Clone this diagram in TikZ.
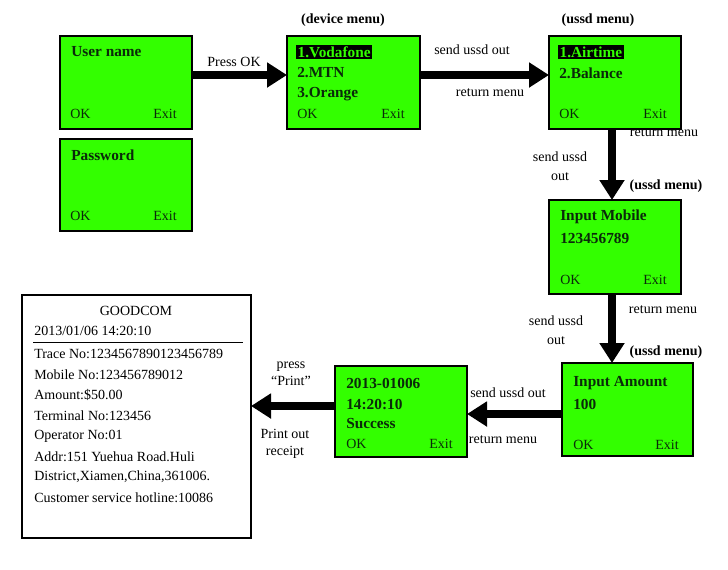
\documentclass[tikz,border=0pt]{standalone}
\usepackage{fontspec}
\setmainfont{Liberation Serif}
\usetikzlibrary{arrows.meta}
\definecolor{scr}{HTML}{33FF00}
\definecolor{ink}{HTML}{0A2A0A}
\begin{document}
\begin{tikzpicture}[x=0.75pt,y=-0.75pt,
  scrn/.style={draw=black,line width=1pt,fill=scr},
  big/.style={font=\bfseries\fontsize{11.5}{13}\selectfont,text=ink,anchor=west,inner sep=0},
  small/.style={font=\fontsize{10.5}{12}\selectfont,text=ink,inner sep=0},
  lbl/.style={font=\fontsize{10.5}{12}\selectfont,align=center,inner sep=0},
  hdr/.style={font=\bfseries\fontsize{10.5}{12}\selectfont,inner sep=0},
  rc/.style={font=\fontsize{10.5}{12}\selectfont,anchor=west,inner sep=0},
  arr/.style={line width=6.5pt,-{Triangle[length=15pt,width=18pt]}}]
\useasboundingbox[fill=white] (0,0) rectangle (728,569);
% screens
\draw[scrn] (60,36) rectangle (192,129);
\draw[scrn] (60,139) rectangle (192,231);
\draw[scrn] (287,36) rectangle (420,129);
\draw[scrn] (549,36) rectangle (681,129);
\draw[scrn] (549,200) rectangle (681,294);
\draw[scrn] (562,363) rectangle (693,456);
\draw[scrn] (335,366) rectangle (467,457);
\draw[line width=0.8pt] (22,295) rectangle (251,538);
% named anchors
\coordinate (Ur) at (192,75); \coordinate (Dl) at (287,75);
\coordinate (Dr) at (420,75); \coordinate (Sl) at (549,75);
\coordinate (Sb) at (612,129); \coordinate (Mt) at (612,200);
\coordinate (Mb) at (612,294); \coordinate (At) at (612,363);
\coordinate (Al) at (562,414); \coordinate (Pr) at (467,414);
\coordinate (Pl) at (335,406); \coordinate (Rr) at (251,406);
% texts in screens
\node[big] at (71,52) {User name};
\node[small,anchor=west] at (70,114) {OK}; \node[small,anchor=east] at (177,114) {Exit};
\node[big] at (71,155) {Password};
\node[small,anchor=west] at (70,216) {OK}; \node[small,anchor=east] at (177,216) {Exit};
\node[big,fill=black,text=scr,inner sep=1pt] at (296,52) {1.Vodafone};
\node[big] at (297,73) {2.MTN};
\node[big] at (297,94) {3.Orange};
\node[small,anchor=west] at (297,114) {OK}; \node[small,anchor=east] at (405,114) {Exit};
\node[big,fill=black,text=scr,inner sep=1pt] at (558,52) {1.Airtime};
\node[big] at (559,73) {2.Balance};
\node[small,anchor=west] at (559,114) {OK}; \node[small,anchor=east] at (667,114) {Exit};
\node[big] at (560,217) {Input Mobile};
\node[big] at (560,238) {123456789};
\node[small,anchor=west] at (560,280) {OK}; \node[small,anchor=east] at (667,280) {Exit};
\node[big] at (573,383) {Input Amount};
\node[big] at (573,404) {100};
\node[small,anchor=west] at (573,445) {OK}; \node[small,anchor=east] at (679,445) {Exit};
\node[big] at (346,383) {2013-01006};
\node[big] at (346,404) {14:20:10};
\node[big] at (346,424) {Success};
\node[small,anchor=west] at (346,444) {OK}; \node[small,anchor=east] at (453,444) {Exit};
% headers
\node[hdr] at (343,20) {(device menu)};
\node[hdr] at (598,20) {(ussd menu)};
\node[hdr] at (666,186) {(ussd menu)};
\node[hdr] at (666,352) {(ussd menu)};
% arrows
\draw[arr] (Ur) -- (Dl);
\draw[arr] (Dr) -- (Sl);
\draw[arr] (Sb) -- (Mt);
\draw[arr] (Mb) -- (At);
\draw[arr] (Al) -- (Pr);
\draw[arr] (Pl) -- (Rr);
% arrow labels
\node[lbl] at (234,62) {Press OK};
\node[lbl] at (472,50) {send ussd out};
\node[lbl] at (490,93) {return menu};
\node[lbl] at (560,166) {send ussd\\[2pt]out};
\node[lbl] at (664,133) {return menu};
\node[lbl] at (556,330) {send ussd\\[2pt]out};
\node[lbl] at (663,310) {return menu};
\node[lbl] at (508,393) {send ussd out};
\node[lbl] at (503,440) {return menu};
\node[lbl] at (291,374) {press\\[1pt]``Print''};
\node[lbl] at (285,444) {Print out\\[1pt]receipt};
% receipt
\node[font=\fontsize{10.5}{12}\selectfont,inner sep=0] at (136,311) {GOODCOM};
\node[rc] at (34,331) {2013/01/06 14:20:10};
\draw[line width=0.6pt] (33,342) -- (243,342);
\foreach \t [count=\i from 0] in {Trace No:1234567890123456789,Mobile No:123456789012,Amount:\$50.00,Terminal No:123456,Operator No:01,Addr:151 Yuehua Road.Huli,{District,Xiamen,China,361006.},Customer service hotline:10086}
  \node[rc] at (34,354+20.5*\i) {\t};
\end{tikzpicture}
\end{document}
